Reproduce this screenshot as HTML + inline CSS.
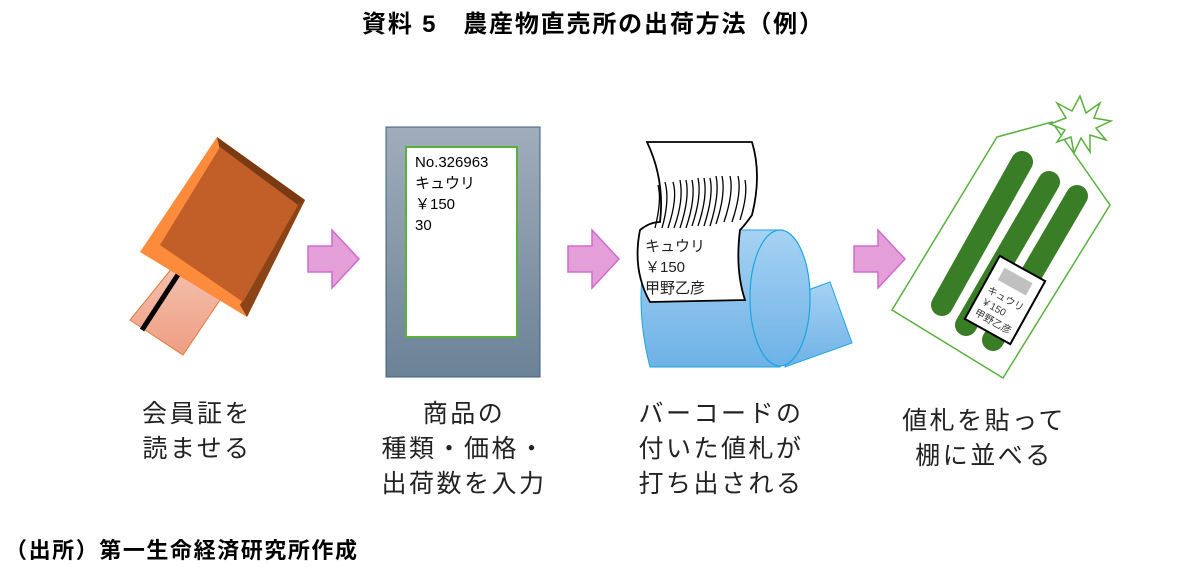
<!DOCTYPE html>
<html><head><meta charset="utf-8"><style>
html,body{margin:0;padding:0;background:#fff;}
svg{display:block;font-family:"Liberation Sans","Noto Sans CJK JP",sans-serif;}
</style></head><body>
<svg width="1183" height="567" viewBox="0 0 1183 567" xmlns="http://www.w3.org/2000/svg">
<defs>
<linearGradient id="gb" x1="0" y1="0" x2="0" y2="1"><stop offset="0" stop-color="#a0adbb"/><stop offset="1" stop-color="#6c8297"/></linearGradient>
<linearGradient id="bl" x1="0" y1="0" x2="0" y2="1"><stop offset="0" stop-color="#a6d2f4"/><stop offset="1" stop-color="#6eb2e6"/></linearGradient>
<linearGradient id="pk" x1="0" y1="0" x2="0" y2="1"><stop offset="0" stop-color="#f4c2b0"/><stop offset="1" stop-color="#ee9e82"/></linearGradient>
</defs>
<text x="362" y="32" font-size="24" font-weight="bold" fill="#000" textLength="461" lengthAdjust="spacing">資料 5　農産物直売所の出荷方法（例）</text>

<!-- card reader -->
<polygon points="177,262 222,297 183,355 130,320" fill="url(#pk)" stroke="#e07a40" stroke-width="1"/>
<line x1="181" y1="270" x2="142" y2="330" stroke="#000" stroke-width="5"/>
<polygon points="217,137 305,200 247,317 140,252" fill="#fd8b3c"/>
<polygon points="217,137 305,200 300,210 220,150" fill="#7a3a14"/>
<polygon points="305,200 247,317 240,305 298,205" fill="#8b4418"/>
<polygon points="220,147 298,205 243,302 160,245" fill="#c25e28"/>

<!-- arrows -->
<g fill="#e49ed8" stroke="#cf6ad0" stroke-width="1.5">
<polygon points="308,246 332,246 332,230 359,259 332,288 332,272 308,272"/>
<polygon points="568,246 592,246 592,230 619,259 592,288 592,272 568,272"/>
<polygon points="854,246 878,246 878,230 905,259 878,288 878,272 854,272"/>
</g>

<!-- box 2 -->
<rect x="386" y="127" width="154" height="250" fill="url(#gb)" stroke="#3f5f80" stroke-width="1"/>
<rect x="406" y="147" width="111" height="190" fill="#fff" stroke="#5ab03c" stroke-width="2"/>
<g font-size="15" fill="#000">
<text x="415" y="167">No.326963</text>
<text x="415" y="188">キュウリ</text>
<text x="415" y="209">￥150</text>
<text x="415" y="230">30</text>
</g>

<!-- roll -->
<polygon points="808,290 830,282 852,343 785,367" fill="url(#bl)" stroke="#1aa6e0" stroke-width="1"/>
<path d="M780,230 L650,230 Q632,298 650,367 L780,367 Z" fill="url(#bl)" stroke="#1aa6e0" stroke-width="1"/>
<ellipse cx="780" cy="298" rx="30" ry="68" fill="url(#bl)" stroke="#1aa6e0" stroke-width="1.2"/>
<path d="M647,142 L752,142 Q762,175 752,215 Q745,225 740,230 Q735,270 745,300 L650,302 Q632,270 640,230 Q650,222 660,222 Q665,180 647,142 Z" fill="#fff" stroke="#000" stroke-width="1.8"/>
<g stroke="#000" stroke-width="1.3" fill="none">
<path d="M655,228 Q662,200 658,185"/><path d="M662,228 Q670,200 665,182"/><path d="M668,228 Q678,198 673,182"/><path d="M674,228 Q684,200 680,180"/><path d="M680,228 Q690,198 686,180"/><path d="M686,228 Q696,198 692,180"/><path d="M692,226 Q702,196 698,178"/><path d="M698,226 Q708,196 704,178"/><path d="M704,226 Q714,195 710,178"/><path d="M710,226 Q720,194 716,176"/><path d="M716,224 Q726,194 722,176"/><path d="M724,222 Q734,192 730,176"/><path d="M732,222 Q742,192 738,176"/><path d="M740,220 Q748,195 745,180"/>
</g>
<g font-size="15" fill="#222">
<text x="645" y="251">キュウリ</text>
<text x="645" y="272">￥150</text>
<text x="645" y="293">甲野乙彦</text>
</g>

<!-- tag -->
<polygon points="997,137 1052,122 1110,205 1003,378 892,310" fill="#fff" stroke="#5ab03c" stroke-width="1.5"/>
<polygon points="1080,96 1086,113 1100,103 1094,118 1111,121 1096,128 1106,140 1090,135 1090,152 1081,138 1074,153 1071,137 1057,142 1065,130 1050,124 1066,118 1057,103 1072,111" fill="#fff" stroke="#5ab03c" stroke-width="1.5"/>
<g stroke="#3a7d27" stroke-width="22" stroke-linecap="round">
<line x1="1022" y1="162" x2="942" y2="305"/>
<line x1="1049" y1="182" x2="966" y2="325"/>
<line x1="1077" y1="196" x2="993" y2="340"/>
</g>
<g transform="translate(1005,300) rotate(29)">
<rect x="-26" y="-36" width="52" height="72" fill="#fff" stroke="#000" stroke-width="2"/>
<rect x="-16" y="-28" width="32" height="14" fill="#c0c0c0"/>
<g font-size="10" fill="#333"><text x="-20" y="2">キュウリ</text><text x="-20" y="15">￥150</text><text x="-20" y="28">甲野乙彦</text></g>
</g>

<!-- labels -->
<g font-size="25" fill="#222" text-anchor="middle" letter-spacing="2.5">
<text x="197" y="422">会員証を</text>
<text x="197" y="457">読ませる</text>
<text x="464" y="422">商品の</text>
<text x="464" y="457">種類・価格・</text>
<text x="464" y="492">出荷数を入力</text>
<text x="721" y="422">バーコードの</text>
<text x="721" y="457">付いた値札が</text>
<text x="721" y="492">打ち出される</text>
<text x="984" y="429">値札を貼って</text>
<text x="984" y="464">棚に並べる</text>
</g>
<text x="5" y="558" font-size="22" font-weight="bold" fill="#000" textLength="352" lengthAdjust="spacing">（出所）第一生命経済研究所作成</text>
</svg>
</body></html>
